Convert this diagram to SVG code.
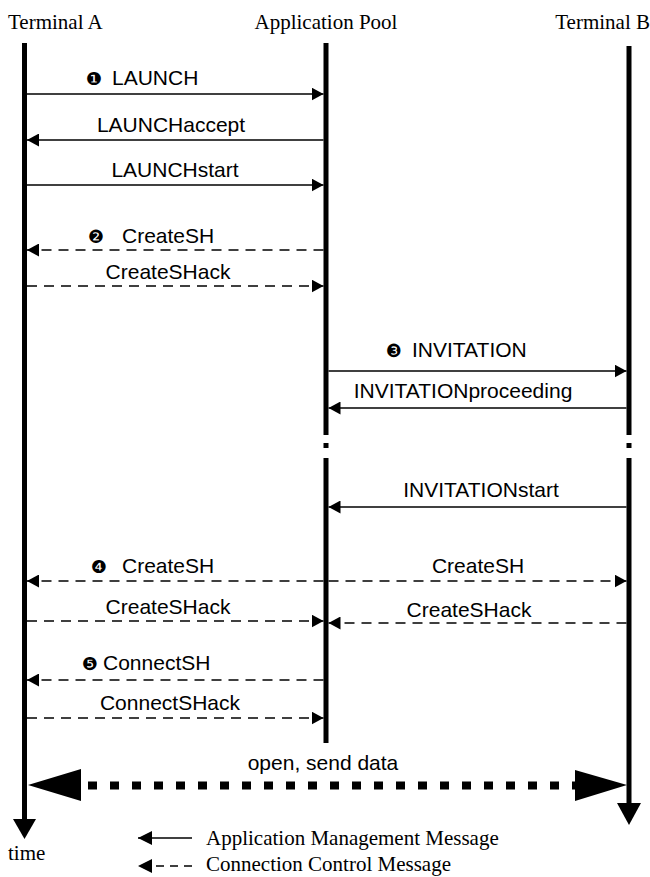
<svg xmlns="http://www.w3.org/2000/svg" width="650" height="877" viewBox="0 0 650 877">
<defs>
<style>
.hdr{font-family:"Liberation Serif","Times New Roman",serif;font-size:21px;fill:#000}
.leg{font-family:"Liberation Serif","Times New Roman",serif;font-size:21px;fill:#000}
.lbl{font-family:"Liberation Sans",Arial,sans-serif;font-size:21px;fill:#000}
.num{font-family:"DejaVu Sans",sans-serif;font-size:18px;fill:#000}
.life{stroke:#000;stroke-width:5;fill:none}
.msg{stroke:#000;stroke-width:1.5;fill:none;marker-end:url(#ah)}
.dash{stroke-dasharray:10 7}
</style>
<marker id="ah" markerUnits="userSpaceOnUse" markerWidth="12" markerHeight="13" refX="12" refY="6.5" orient="auto">
<path d="M0,0 L12,6.5 L0,13 Z" fill="#000"/>
</marker>
<marker id="ahL" markerUnits="userSpaceOnUse" markerWidth="14" markerHeight="14" refX="14" refY="7" orient="auto">
<path d="M0,0 L14,7 L0,14 Z" fill="#000"/>
</marker>
</defs>
<rect width="650" height="877" fill="#fff"/>

<g id="terminal-a">
<text class="hdr" x="8" y="29">Terminal A</text>
<line class="life" x1="24.5" y1="43" x2="24.5" y2="820"/>
<polygon points="13,819 36,819 24.5,839" fill="#000"/>
<text class="hdr" x="8" y="860">time</text>
</g>

<g id="application-pool">
<text class="hdr" x="326" y="29" text-anchor="middle">Application Pool</text>
<line class="life" x1="326" y1="43" x2="326" y2="435"/>
<line class="life" x1="326" y1="443" x2="326" y2="448"/>
<line class="life" x1="326" y1="458" x2="326" y2="743"/>
</g>

<g id="terminal-b">
<text class="hdr" x="650" y="29" text-anchor="end">Terminal B</text>
<line class="life" x1="629" y1="46" x2="629" y2="435"/>
<line class="life" x1="629" y1="443" x2="629" y2="448"/>
<line class="life" x1="629" y1="458" x2="629" y2="804"/>
<polygon points="617,803 641,803 629,825" fill="#000"/>
</g>

<g id="connectors">
<line class="msg" x1="27" y1="94" x2="323.5" y2="94"/>
<line class="msg" x1="323.5" y1="140" x2="27" y2="140"/>
<line class="msg" x1="27" y1="185" x2="323.5" y2="185"/>
<line class="msg dash" x1="323.5" y1="250" x2="27" y2="250"/>
<line class="msg dash" x1="27" y1="286" x2="323.5" y2="286"/>
<line class="msg" x1="328.5" y1="371" x2="626.5" y2="371"/>
<line class="msg" x1="626.5" y1="408" x2="328.5" y2="408"/>
<line class="msg" x1="626.5" y1="507" x2="328.5" y2="507"/>
<line class="msg dash" x1="323.5" y1="581" x2="27" y2="581"/>
<line class="msg dash" x1="328.5" y1="581" x2="626.5" y2="581"/>
<line class="msg dash" x1="27" y1="621" x2="323.5" y2="621"/>
<line class="msg dash" x1="626.5" y1="623" x2="328.5" y2="623"/>
<line class="msg dash" x1="323.5" y1="680" x2="27" y2="680"/>
<line class="msg dash" x1="27" y1="718" x2="323.5" y2="718"/>
<line x1="81" y1="785.5" x2="575" y2="785.5" stroke="#000" stroke-width="8" stroke-dasharray="9 13" stroke-dashoffset="-7"/>
<polygon points="28,785 81,769 81,801" fill="#000"/>
<polygon points="627,785 575,770 575,801" fill="#000"/>
</g>

<g id="labels">
<text class="num" x="86" y="85">❶</text>
<text class="lbl" x="112" y="85">LAUNCH</text>
<text class="lbl" x="171" y="132" text-anchor="middle">LAUNCHaccept</text>
<text class="lbl" x="175" y="177" text-anchor="middle">LAUNCHstart</text>
<text class="num" x="88" y="243">❷</text>
<text class="lbl" x="122" y="243">CreateSH</text>
<text class="lbl" x="168" y="279" text-anchor="middle">CreateSHack</text>
<text class="num" x="386" y="357">❸</text>
<text class="lbl" x="412" y="357">INVITATION</text>
<text class="lbl" x="463" y="398" text-anchor="middle">INVITATIONproceeding</text>
<text class="lbl" x="481" y="497" text-anchor="middle">INVITATIONstart</text>
<text class="num" x="91" y="573">❹</text>
<text class="lbl" x="122" y="573">CreateSH</text>
<text class="lbl" x="478" y="573" text-anchor="middle">CreateSH</text>
<text class="lbl" x="168" y="614" text-anchor="middle">CreateSHack</text>
<text class="lbl" x="469" y="617" text-anchor="middle">CreateSHack</text>
<text class="num" x="82" y="670">❺</text>
<text class="lbl" x="103" y="670">ConnectSH</text>
<text class="lbl" x="170" y="710" text-anchor="middle">ConnectSHack</text>
<text class="lbl" x="323" y="770" text-anchor="middle">open,  send data</text>
</g>

<g id="legend">
<line x1="192" y1="838" x2="138" y2="838" stroke="#000" stroke-width="1.5" marker-end="url(#ahL)"/>
<text class="leg" x="206" y="845">Application Management Message</text>
<line x1="192" y1="866" x2="138" y2="866" stroke="#000" stroke-width="1.5" stroke-dasharray="8 6" marker-end="url(#ahL)"/>
<text class="leg" x="206" y="871">Connection Control Message</text>
</g>
</svg>
